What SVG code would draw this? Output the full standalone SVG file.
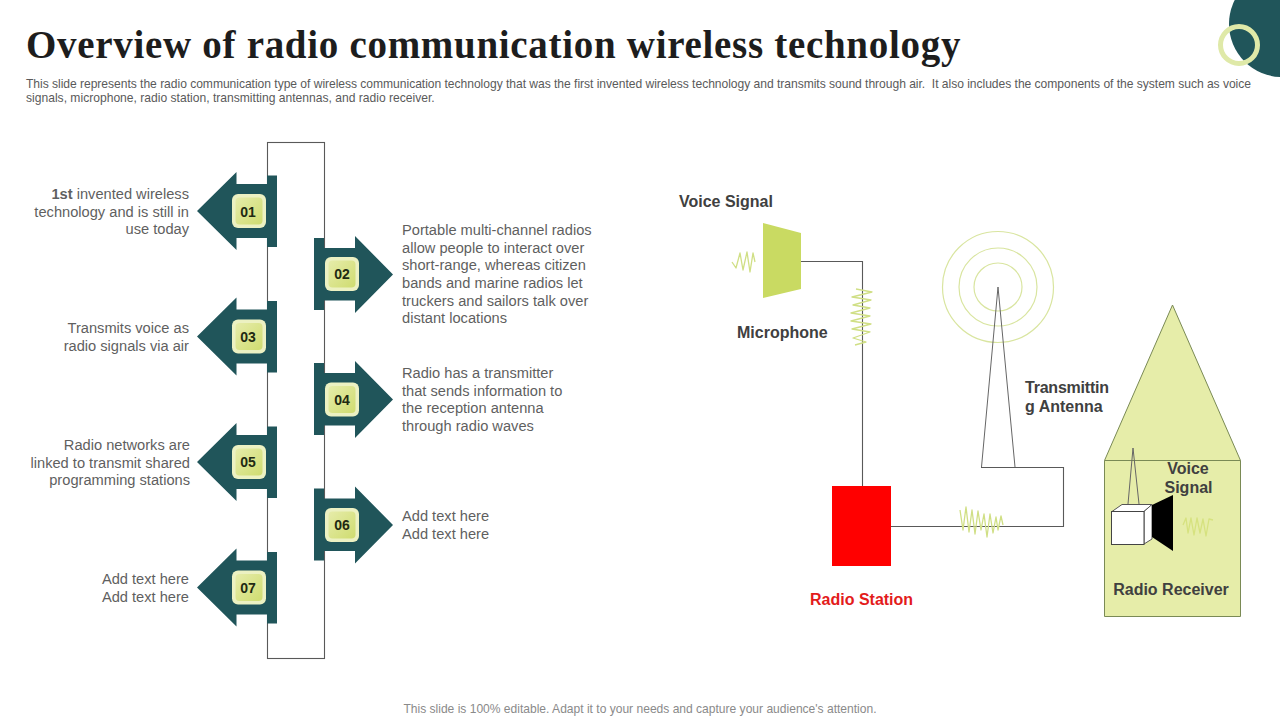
<svg xmlns="http://www.w3.org/2000/svg" xmlns:xlink="http://www.w3.org/1999/xlink" width="1280" height="720" viewBox="0 0 1280 720">
<style>
text{font-family:"Liberation Sans",Arial,sans-serif}
.title{font-family:"Liberation Serif","Times New Roman",serif;font-weight:700;font-size:39px;fill:#1d1d1d;letter-spacing:.7px}
.sub{font-size:12.1px;fill:#5a5a5a;white-space:pre}
.body{font-size:14.65px;fill:#5f5f5f}
.r{text-anchor:end}
.num{font-size:14px;font-weight:700;fill:#1f2a12;text-anchor:middle}
.lab{font-size:16px;font-weight:700;fill:#404040}
.mid{text-anchor:middle}
.wire{fill:none;stroke:#595959;stroke-width:1.1}
.wave{fill:none;stroke:#d0df85;stroke-width:1.3;stroke-linejoin:round}
.ant{fill:none;stroke:#666;stroke-width:1}
.ring{fill:none;stroke:#d9e5a0;stroke-width:1.2}
.arrow{fill:#20555a}
</style>
<defs>
<linearGradient id="g" x1="0" y1="0" x2="1" y2="1"><stop offset="0" stop-color="#e6ecaa"/><stop offset="1" stop-color="#cfdc70"/></linearGradient>
<g id="badge"><rect x="-17" y="-17" width="34" height="34" rx="6" fill="#ecf1c2"/><rect x="-13.500" y="-13.500" width="27" height="27" rx="4" fill="url(#g)"/></g>
<path id="al" class="arrow" d="M197 0L236.500-39V-27H267V-35.500H277V36H267V27H236.500V39Z"/>
<path id="ar" class="arrow" d="M393 0L355-38.500V-26.500H324V-36.500H314V35.500H324V26H355V38.500Z"/>
</defs>
<rect width="1280" height="720" fill="#fff"/>
<g id="corner"><circle cx="1282" cy="24" r="53" fill="#20555a"/><circle cx="1239" cy="45" r="18.500" fill="none" stroke="#dfe9a8" stroke-width="5"/></g>
<text class="title" x="26" y="58">Overview of radio communication wireless technology</text>
<text class="sub" x="26" y="88" textLength="1225" lengthAdjust="spacing">This slide represents the radio communication type of wireless communication technology that was the first invented wireless technology and transmits sound through air.  It also includes the components of the system such as voice</text>
<text class="sub" x="26" y="102">signals, microphone, radio station, transmitting antennas, and radio receiver.</text>

<g id="connectors">
<rect class="wire" x="267.500" y="142.500" width="57" height="516"/>
<path class="wire" d="M801 261.500H862.500V486M891 526.500H1063.500V467.500H981"/>
</g>

<g id="step-01"><use xlink:href="#al" href="#al" y="211"/><use xlink:href="#badge" href="#badge" x="249" y="211"/><text class="num" x="248" y="216.500">01</text>
<text class="body r" x="189" y="199"><tspan font-weight="700">1st</tspan> invented wireless</text><text class="body r" x="189" y="216.500">technology and is still in</text><text class="body r" x="189" y="234">use today</text></g>
<g id="step-02"><use xlink:href="#ar" href="#ar" y="274.500"/><use xlink:href="#badge" href="#badge" x="342" y="274"/><text class="num" x="342" y="279">02</text>
<text class="body" x="402" y="234.500">Portable multi-channel radios</text><text class="body" x="402" y="252.500">allow people to interact over</text><text class="body" x="402" y="270">short-range, whereas citizen</text><text class="body" x="402" y="287.500">bands and marine radios let</text><text class="body" x="402" y="305.500">truckers and sailors talk over</text><text class="body" x="402" y="323">distant locations</text></g>
<g id="step-03"><use xlink:href="#al" href="#al" y="336.500"/><use xlink:href="#badge" href="#badge" x="249" y="336.500"/><text class="num" x="248" y="341.500">03</text>
<text class="body r" x="189" y="333">Transmits voice as</text><text class="body r" x="189" y="351">radio signals via air</text></g>
<g id="step-04"><use xlink:href="#ar" href="#ar" y="399.500"/><use xlink:href="#badge" href="#badge" x="342" y="399.500"/><text class="num" x="342" y="404.500">04</text>
<text class="body" x="402" y="378">Radio has a transmitter</text><text class="body" x="402" y="396">that sends information to</text><text class="body" x="402" y="413">the reception antenna</text><text class="body" x="402" y="431">through radio waves</text></g>
<g id="step-05"><use xlink:href="#al" href="#al" y="462"/><use xlink:href="#badge" href="#badge" x="249" y="462"/><text class="num" x="248" y="467">05</text>
<text class="body r" x="190" y="450">Radio networks are</text><text class="body r" x="190" y="468">linked to transmit shared</text><text class="body r" x="190" y="485">programming stations</text></g>
<g id="step-06"><use xlink:href="#ar" href="#ar" y="525"/><use xlink:href="#badge" href="#badge" x="342" y="525"/><text class="num" x="342" y="530">06</text>
<text class="body" x="402" y="521">Add text here</text><text class="body" x="402" y="539">Add text here</text></g>
<g id="step-07"><use xlink:href="#al" href="#al" y="587.500"/><use xlink:href="#badge" href="#badge" x="249" y="587.500"/><text class="num" x="248" y="592.500">07</text>
<text class="body r" x="189" y="584">Add text here</text><text class="body r" x="189" y="602">Add text here</text></g>

<g id="voice-signal"><text class="lab" x="679" y="206.500">Voice Signal</text>
<path class="wave" d="M732 262L736 268 740 253 743 270 747 252 750 272 753 253 755 262"/></g>
<g id="microphone"><path d="M763 223L801 233V289L763 298Z" fill="#c9da62"/><text class="lab" x="737" y="338">Microphone</text>
<path class="wave" d="M856 289L872 292 852 297 871 300 853 305 870 308 851 313 870 316 851 321 871 324 852 329 870 332 853 338 866 342 855 345"/></g>
<g id="radio-station"><rect x="832" y="486" width="59" height="80" fill="#ff0000"/><text class="lab" x="810" y="604.500" style="fill:#e31b1b">Radio Station</text>
<path class="wave" d="M960 510L963 530 966 507 969 532 972 510 975 534 978 511 981 530 984 514 987 537 990 514 993 533 996 517 998 530 1001 516 1003 525"/></g>
<g id="antenna"><circle class="ring" cx="998" cy="287" r="55.500"/><circle class="ring" cx="998" cy="287" r="39"/><circle class="ring" cx="998" cy="287" r="24"/>
<path class="ant" d="M981.500 467L998 287 1015 467"/><text class="lab" x="1025" y="393" textLength="84">Transmittin</text><text class="lab" x="1025" y="412">g Antenna</text></g>
<g id="radio-receiver"><path d="M1104.500 460.500L1172.500 305 1240.500 460.500V616.500H1104.500Z" fill="#e6eda9" stroke="#7a8a55" stroke-width="1"/><path d="M1104.500 460.500H1240.500" fill="none" stroke="#7a8a55" stroke-width="1"/>
<path class="ant" d="M1128 504L1133 448 1139 504"/>
<path d="M1112 511.500L1122 504.500H1152L1144 511.500Z" fill="#fff" stroke="#555"/><path d="M1144 511.500L1152 504.500V539L1144 544Z" fill="#fff" stroke="#555"/><rect x="1111.500" y="511.500" width="32.500" height="33" fill="#fff" stroke="#444"/>
<path d="M1152 505L1173 495V551L1152 537Z" fill="#000"/>
<path class="wave" style="stroke:#d6e27f" d="M1183 525L1186 518 1188 533 1191 518 1194 535 1197 518 1200 533 1203 519 1206 536 1209 519 1213 520"/>
<text class="lab mid" x="1188" y="474">Voice</text><text class="lab mid" x="1188.500" y="493">Signal</text><text class="lab mid" x="1171" y="595">Radio Receiver</text></g>
<text x="640" y="713" text-anchor="middle" font-size="12.05" fill="#8a8a8a">This slide is 100% editable. Adapt it to your needs and capture your audience's attention.</text>
</svg>
